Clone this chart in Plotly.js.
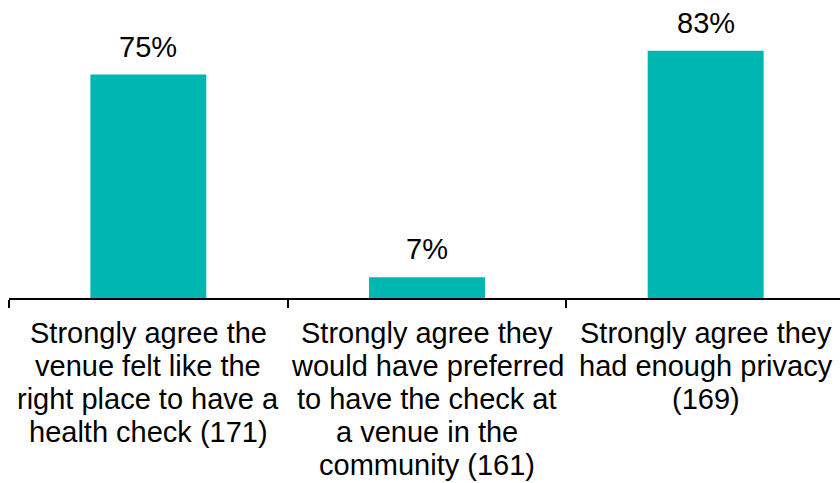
<!DOCTYPE html>
<html>
<head>
<meta charset="utf-8">
<script src="https://cdn.plot.ly/plotly-3.0.1.min.js"></script>
<style>
  html, body { margin: 0; padding: 0; overflow: hidden; background: #fff; }
  #chart { width: 845px; height: 483px; }
</style>
</head>
<body>
<div id="chart"></div>
<script>
const categories = [
  "Strongly agree the venue felt like the right place to have a health check (171)",
  "Strongly agree they would have preferred to have the check at a venue in the community (161)",
  "Strongly agree they had enough privacy (169)"
];
const labelLines = [
  ["Strongly agree the", "venue felt like the", "right place to have a", "health check (171)"],
  ["Strongly agree they", "would have preferred", "to have the check at", "a venue in the", "community (161)"],
  ["Strongly agree they", "had enough privacy", "(169)"]
];
const values = [75, 7, 83];
const valueLabels = ["75%", "7%", "83%"];

const FONT = "Liberation Sans, Arial, sans-serif";
const annotations = [];
// data labels
categories.forEach((c, i) => {
  annotations.push({
    x: c, y: values[i], xref: "x", yref: "y",
    text: valueLabels[i], showarrow: false,
    yanchor: "middle", yshift: 28,
    font: { family: FONT, size: 29, color: "#000" }
  });
});
// category labels, one annotation per line
categories.forEach((c, i) => {
  labelLines[i].forEach((line, j) => {
    annotations.push({
      x: c, y: 0, xref: "x", yref: "paper",
      text: line, showarrow: false,
      yanchor: "middle", yshift: -(35 + 33 * j),
      font: { family: FONT, size: 29, color: "#000" }
    });
  });
});

const trace = {
  type: "bar",
  x: categories,
  y: values,
  marker: { color: "#00B6B0" },
  hoverinfo: "none"
};

const layout = {
  width: 845, height: 483,
  margin: { l: 9, r: 0, t: 0, b: 185, pad: 0 },
  paper_bgcolor: "#fff", plot_bgcolor: "#fff",
  bargap: 0.584,
  showlegend: false,
  xaxis: {
    type: "category",
    showticklabels: false,
    showline: true, linecolor: "#000", linewidth: 2,
    ticks: "outside", tickson: "boundaries", ticklen: 8, tickwidth: 2, tickcolor: "#000",
    showgrid: false, zeroline: false
  },
  yaxis: {
    range: [0, 100],
    visible: false, showgrid: false, zeroline: false
  },
  annotations: annotations,
  font: { family: FONT, size: 29, color: "#000" }
};

Plotly.newPlot("chart", [trace], layout, { displayModeBar: false, staticPlot: true });
</script>
</body>
</html>
